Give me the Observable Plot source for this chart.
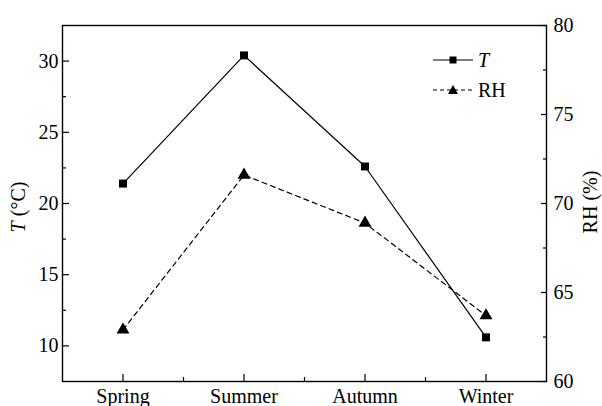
<!DOCTYPE html>
<html><head><meta charset="utf-8">
<script src="https://cdn.jsdelivr.net/npm/d3@7"></script>
<script src="https://cdn.jsdelivr.net/npm/@observablehq/plot@0.6"></script>
<style>
html,body{margin:0;padding:0;background:#fff;overflow:hidden;}
#wrap{position:relative;width:602px;height:406px;font-family:"Times New Roman","Liberation Serif",serif;color:#000;}
#wrap > svg{position:absolute;left:0;top:0;}
#wrap svg text{font-family:"Times New Roman","Liberation Serif",serif;}
.lab{position:absolute;font-size:20px;line-height:20px;white-space:nowrap;transform:translate(-50%,-50%) rotate(-90deg);}
</style></head><body><div id="wrap"></div>
<script>
const seasons = ["Spring", "Summer", "Autumn", "Winter"];
const tempValues = [21.4, 30.4, 22.6, 10.6];
const rhValues = [62.9, 71.6, 68.9, 63.7];
const tTicks = [10, 15, 20, 25, 30];
const tMinorTicks = [12.5, 17.5, 22.5, 27.5];
const rhTicks = [60, 65, 70, 75, 80];
const rhMinorTicks = [62.5, 67.5, 72.5, 77.5];
const xMajorTicks = [0, 1, 2, 3];
const xMinorTicks = [0.5, 1.5, 2.5];

const W = 602, H = 406;
const margins = {marginLeft: 62, marginRight: 56, marginTop: 25, marginBottom: 25};
const xDomain = [-0.5, 3.5];
const FF = '"Times New Roman","Liberation Serif",serif';
const font = {fontFamily: FF, fontSize: "20px", color: "#000", background: "transparent", overflow: "visible"};

const tData = seasons.map((s, i) => ({i, v: tempValues[i]}));
const rhData = seasons.map((s, i) => ({i, v: rhValues[i]}));
const blank = () => "";
const txt = {fontFamily: FF, fontSize: 20, fill: "#000"};

const p1 = Plot.plot({
  width: W, height: H, ...margins,
  style: font,
  x: {domain: xDomain, axis: null},
  y: {domain: [7.5, 32.5], axis: null},
  marks: [
    Plot.axisX(xMajorTicks, {anchor: "bottom", tickSize: 7, insetBottom: 7, tickPadding: 7, tickFormat: i => seasons[i], label: null, strokeWidth: 1.2, ...txt}),
    Plot.axisX(xMinorTicks, {anchor: "bottom", tickSize: 4, insetBottom: 4, tickFormat: blank, label: null, strokeWidth: 1.2}),
    Plot.axisY(tTicks, {anchor: "left", tickSize: 7, insetLeft: 7, tickPadding: 4, label: null, strokeWidth: 1.2, ...txt}),
    Plot.axisY(tMinorTicks, {anchor: "left", tickSize: 4, insetLeft: 4, tickFormat: blank, label: null, strokeWidth: 1.2}),
    Plot.line(tData, {x: "i", y: "v", stroke: "#000", strokeWidth: 1.2}),
    Plot.dot(tData, {x: "i", y: "v", symbol: "square", r: 4.5, fill: "#000"}),
    Plot.frame({stroke: "#000", strokeWidth: 1.4})
  ]
});

const p2 = Plot.plot({
  width: W, height: H, ...margins,
  style: font,
  x: {domain: xDomain, axis: null},
  y: {domain: [60, 80], axis: null},
  marks: [
    Plot.axisY(rhTicks, {anchor: "right", tickSize: 6, insetRight: 6, tickPadding: 7, label: null, strokeWidth: 1.2, ...txt}),
    Plot.axisY(rhMinorTicks, {anchor: "right", tickSize: 4, insetRight: 4, tickFormat: blank, label: null, strokeWidth: 1.2}),
    Plot.line(rhData, {x: "i", y: "v", stroke: "#000", strokeWidth: 1.2, strokeDasharray: "5,4"}),
    Plot.dot(rhData, {x: "i", y: "v", symbol: "triangle", r: 4.8, fill: "#000"})
  ]
});

const wrap = document.getElementById("wrap");
wrap.appendChild(p1);
wrap.appendChild(p2);

// axis titles
const yl = document.createElement("div");
yl.className = "lab";
yl.style.left = "18px"; yl.style.top = "207px";
yl.innerHTML = "<i>T</i> (°C)";
wrap.appendChild(yl);
const yr = document.createElement("div");
yr.className = "lab";
yr.style.left = "590px"; yr.style.top = "202px";
yr.textContent = "RH (%)";
wrap.appendChild(yr);

// legend
const ns = "http://www.w3.org/2000/svg";
const lg = document.createElementNS(ns, "svg");
lg.setAttribute("width", 120); lg.setAttribute("height", 60);
lg.style.position = "absolute"; lg.style.left = "425px"; lg.style.top = "45px";
lg.innerHTML = `
<line x1="8" x2="48" y1="15" y2="15" stroke="#000" stroke-width="1.2"/>
<rect x="24.5" y="11.5" width="7" height="7" fill="#000"/>
<text x="53" y="22" font-size="20" font-style="italic">T</text>
<line x1="8" x2="48" y1="45" y2="45" stroke="#000" stroke-width="1.2" stroke-dasharray="4,3"/>
<polygon points="28,40 33,49 23,49" fill="#000"/>
<text x="53" y="52" font-size="20">RH</text>`;
wrap.appendChild(lg);
</script></body></html>
